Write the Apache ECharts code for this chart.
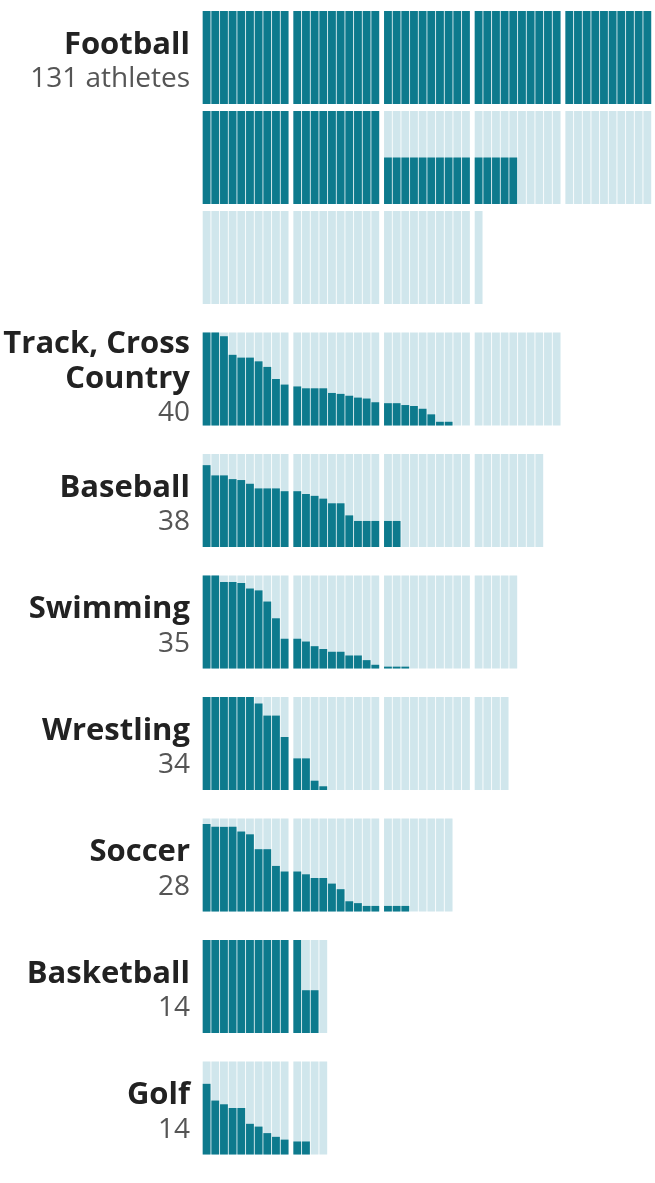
<!DOCTYPE html>
<html><head><meta charset="utf-8">
<script src="https://cdn.jsdelivr.net/npm/echarts@6/dist/echarts.min.js"></script>
<style>html,body{margin:0;padding:0;background:#fff}#c{width:655px;height:1183px}</style>
</head><body><div id="c"></div>
<script>
// ---- data ----
const sports = ['Football', 'Track, Cross Country', 'Baseball', 'Swimming', 'Wrestling', 'Soccer', 'Basketball', 'Golf'];
const countLabels = ['131 athletes', '40', '38', '35', '34', '28', '14', '14'];

const football = [
  100,100,100,100,100,100,100,100,100,100, 100,100,100,100,100,100,100,100,100,100,
  100,100,100,100,100,100,100,100,100,100, 100,100,100,100,100,100,100,100,100,100,
  100,100,100,100,100,100,100,100,100,100,
  100,100,100,100,100,100,100,100,100,100, 100,100,100,100,100,100,100,100,100,100,
  50,50,50,50,50,50,50,50,50,50, 50,50,50,50,50,0,0,0,0,0,
  0,0,0,0,0,0,0,0,0,0,
  0,0,0,0,0,0,0,0,0,0, 0,0,0,0,0,0,0,0,0,0,
  0,0,0,0,0,0,0,0,0,0, 0
];
const track = [100,100,96,76,73,73,69,63,50,44, 42,40,40,40,35,34,32,30,29,25, 24,24,22,21,18,12,4,4,0,0, 0,0,0,0,0,0,0,0,0,0];
const baseball = [88,77,77,73,72,68,63,63,63,60, 60,57,55,52,47,47,34,28,28,28, 28,28,0,0,0,0,0,0,0,0, 0,0,0,0,0,0,0,0];
const swimming = [100,100,93,93,92,86,84,72,54,32, 32,29,24,21,18,18,14,14,9,4, 2,2,2,0,0,0,0,0,0,0, 0,0,0,0,0];
const wrestling = [100,100,100,100,100,100,93,80,80,57, 34,34,10,4,0,0,0,0,0,0, 0,0,0,0,0,0,0,0,0,0, 0,0,0,0];
const soccer = [94,91,91,91,86,83,67,67,49,43, 43,40,36,36,30,24,11,9,6,6, 6,6,6,0,0,0,0,0];
const basketball = [100,100,100,100,100,100,100,100,100,100, 100,46,46,0];
const golf = [76,58,54,50,50,33,30,23,19,16, 14,14,0,0];

const values = [football, track, baseball, swimming, wrestling, soccer, basketball, golf];

// ---- style / layout ----
const DARK = '#0d7a8d', LIGHT = '#d0e6ec';
const PER_ROW = 50, GROUP = 10, GAP = 0.4615;
const LEFT = 202.7, SLOT_PX = 8.667;
const AXIS_MAX = PER_ROW + (PER_ROW / GROUP - 1) * GAP;
const GRID_W = AXIS_MAX * SLOT_PX;
const ROW_H = 93, ROW_PITCH = 100, SPORT_PITCH = 121.5;
const LABEL_X = 190, LINE_H = 34.5;
const TITLE_FONT = 'bold 31px "Open Sans"', COUNT_FONT = '28px "Open Sans"';

const ctx = document.createElement('canvas').getContext('2d');
function wrap(text, font, maxW) {
  ctx.font = font;
  const words = text.split(' '); const lines = []; let cur = '';
  words.forEach(w => {
    const t = cur ? cur + ' ' + w : w;
    if (ctx.measureText(t).width > maxW && cur) { lines.push(cur); cur = w; } else cur = t;
  });
  if (cur) lines.push(cur);
  return lines;
}

function renderItem(params, api) {
  const x = api.value(0), v = api.value(1);
  const b = api.coord([x, 0]), t = api.coord([x + 1, 100]), m = api.coord([x, v]);
  const w = t[0] - b[0] - 0.85;
  const children = [{ type: 'rect', shape: { x: b[0], y: t[1], width: w, height: b[1] - t[1] }, style: { fill: LIGHT } }];
  if (v > 0) children.push({ type: 'rect', shape: { x: b[0], y: m[1], width: w, height: b[1] - m[1] }, style: { fill: DARK } });
  return { type: 'group', children };
}

const grids = [], xAxes = [], yAxes = [], series = [], graphics = [];
let y = 11;
values.forEach((vals, s) => {
  const rows = Math.ceil(vals.length / PER_ROW);
  const firstTop = y;
  for (let r = 0; r < rows; r++) {
    const gi = grids.length;
    grids.push({ left: LEFT, top: y, width: GRID_W, height: ROW_H });
    xAxes.push({ type: 'value', gridIndex: gi, min: 0, max: AXIS_MAX, show: false });
    yAxes.push({ type: 'value', gridIndex: gi, min: 0, max: 100, show: false });
    const data = [];
    for (let k = r * PER_ROW; k < Math.min(vals.length, (r + 1) * PER_ROW); k++) {
      const j = k - r * PER_ROW;
      data.push([j + Math.floor(j / GROUP) * GAP, vals[k]]);
    }
    series.push({ type: 'custom', xAxisIndex: gi, yAxisIndex: gi, data, renderItem, silent: true, animation: false });
    if (r < rows - 1) y += ROW_PITCH;
  }
  const tLines = wrap(sports[s], TITLE_FONT, 192);
  const all = tLines.map(t => ({ t, font: TITLE_FONT, fill: '#222' })).concat([{ t: countLabels[s], font: COUNT_FONT, fill: '#555' }]);
  const mid = firstTop + ROW_H / 2 + 4.5 * (3 - all.length);
  all.forEach((ln, i) => {
    graphics.push({ type: 'text', x: LABEL_X, y: mid + (i - (all.length - 1) / 2) * LINE_H,
      style: { text: ln.t, font: ln.font, fill: ln.fill, textAlign: 'right', textVerticalAlign: 'middle' }, silent: true });
  });
  y += SPORT_PITCH;
});

const chart = echarts.init(document.getElementById('c'), null, { renderer: 'canvas' });
chart.setOption({ animation: false, grid: grids, xAxis: xAxes, yAxis: yAxes, series, graphic: graphics });
</script>
</body></html>
